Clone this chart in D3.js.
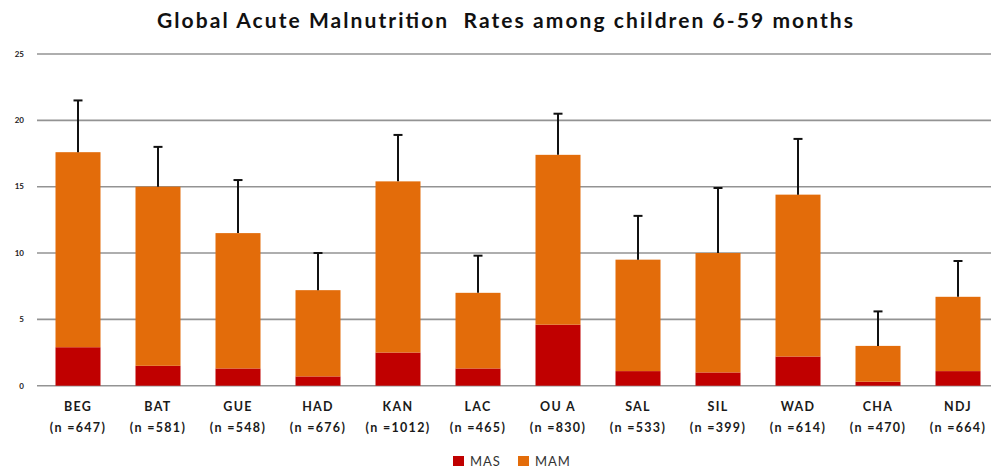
<!DOCTYPE html>
<html><head><meta charset="utf-8">
<script src="https://cdn.jsdelivr.net/npm/d3@7/dist/d3.min.js"></script>
<style>html,body{margin:0;padding:0;background:#fff;}svg{display:block;}</style>
</head><body>
<svg id="chart" width="991" height="470"></svg>
<script>
const categories = ["BEG","BAT","GUE","HAD","KAN","LAC","OU A","SAL","SIL","WAD","CHA","NDJ"];
const sampleSizes = ["(n =647)","(n =581)","(n =548)","(n =676)","(n =1012)","(n =465)","(n =830)","(n =533)","(n =399)","(n =614)","(n =470)","(n =664)"];
const masValues = [2.9, 1.5, 1.3, 0.7, 2.5, 1.3, 4.6, 1.1, 1.0, 2.2, 0.3, 1.1];
const mamValues = [14.7, 13.5, 10.2, 6.5, 12.9, 5.7, 12.8, 8.4, 9.0, 12.2, 2.7, 5.6];
const errorUpper = [3.9, 3.0, 4.0, 2.8, 3.5, 2.8, 3.1, 3.3, 4.9, 4.2, 2.6, 2.7];
const yTicks = [0, 5, 10, 15, 20, 25];
const seriesNames = ["MAS", "MAM"];
const colors = {MAS: "#C00000", MAM: "#E36C0A"};
const title = "Global Acute Malnutrition  Rates among children 6-59 months";

const svg = d3.select("#chart");
const font = "Lato, 'Open Sans', sans-serif";

const x = d3.scaleBand().domain(categories).range([38, 998]).paddingInner(0.4375).paddingOuter(0.21875);
const y = d3.scaleLinear().domain([0, 25]).range([385.7, 54]);

// gridlines
svg.append("g").selectAll("line").data(yTicks).join("line")
  .attr("x1", 37).attr("x2", 991)
  .attr("y1", d => y(d)).attr("y2", d => y(d))
  .attr("stroke", "#939393").attr("stroke-width", 1.6);

// y tick labels
svg.append("g").selectAll("text").data(yTicks).join("text")
  .attr("x", 24).attr("y", d => y(d)).attr("dy", "0.35em")
  .attr("text-anchor", "end").attr("font-family", font).attr("font-weight", "bold")
  .attr("font-size", 8).attr("fill", "#222").text(d => d);

const data = categories.map((c, i) => ({cat: c, MAS: masValues[i], MAM: mamValues[i], err: errorUpper[i]}));
const stacked = d3.stack().keys(seriesNames)(data);

svg.append("g").selectAll("g").data(stacked).join("g")
  .attr("fill", s => colors[s.key])
  .selectAll("rect").data(s => s).join("rect")
  .attr("x", d => x(d.data.cat)).attr("width", x.bandwidth())
  .attr("y", d => y(d[1])).attr("height", d => y(d[0]) - y(d[1]));

// error bars
const eg = svg.append("g").attr("stroke", "#111").attr("stroke-width", 2);
data.forEach(d => {
  const cx = x(d.cat) + x.bandwidth() / 2;
  const top = d.MAS + d.MAM;
  eg.append("line").attr("x1", cx).attr("x2", cx).attr("y1", y(top)).attr("y2", y(top + d.err));
  eg.append("line").attr("x1", cx - 4.5).attr("x2", cx + 4.5).attr("y1", y(top + d.err)).attr("y2", y(top + d.err));
});

// x labels
const xl = svg.append("g").attr("font-family", font).attr("font-weight", "bold").attr("font-size", 12.5)
  .attr("letter-spacing", 1.3).attr("fill", "#1a1a1a").attr("text-anchor", "middle");
categories.forEach((c, i) => {
  const cx = x(c) + x.bandwidth() / 2;
  xl.append("text").attr("x", cx).attr("y", 407).attr("dy", "0.35em").text(c);
  xl.append("text").attr("x", cx).attr("y", 428).attr("dy", "0.35em").text(sampleSizes[i]);
});

// title
svg.append("text").attr("x", 505).attr("y", 21).attr("dy", "0.35em").attr("text-anchor", "middle")
  .attr("font-family", font).attr("font-weight", "bold").attr("font-size", 21).attr("fill", "#111")
  .attr("textLength", 696).attr("lengthAdjust", "spacing")
  .attr("xml:space", "preserve").style("white-space", "pre").text(title);

// legend
const legendX = [453, 518];
const lg = svg.append("g").attr("font-family", font).attr("font-size", 13).attr("letter-spacing", 1)
  .attr("fill", "#333");
seriesNames.forEach((s, i) => {
  lg.append("rect").attr("x", legendX[i]).attr("y", 456).attr("width", 11).attr("height", 10).attr("fill", colors[s]);
  lg.append("text").attr("x", legendX[i] + 17).attr("y", 461).attr("dy", "0.35em").text(s);
});
</script>
</body></html>
